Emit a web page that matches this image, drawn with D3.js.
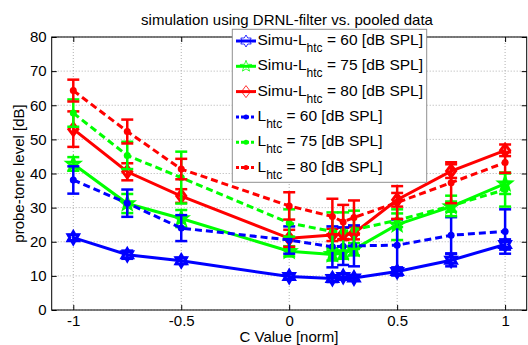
<!DOCTYPE html>
<html>
<head>
<meta charset="utf-8">
<script src="https://cdn.jsdelivr.net/npm/d3@7"></script>
<style>
body { margin:0; background:#fff; }
text { font-family: "Liberation Sans", Arial, sans-serif; fill:#000; }
</style>
</head>
<body>
<div id="wrapper"></div>
<script>
var cValues = [-1, -0.75, -0.5, 0, 0.2, 0.25, 0.3, 0.5, 0.75, 1];
var xTicks = [-1, -0.5, 0, 0.5, 1];
var yTicks = [0, 10, 20, 30, 40, 50, 60, 70, 80];

var simu60 = [21.2, 16.2, 14.4, 9.8, 9.2, 9.8, 9.4, 11.3, 14.6, 19.2];
var simu60Err = [0.8, 1.2, 0.9, 0.7, 1, 0.8, 0.7, 1.2, 1.8, 1.5];
var simu75 = [42.8, 31.2, 26.8, 17.2, 16.3, 16.8, 17.8, 25, 30.3, 37];
var simu75Err = [2, 2.8, 2.5, 1.5, 1.8, 1.8, 1.8, 4.5, 1.5, 3];
var simu80 = [53, 40.5, 33.4, 21, 22, 22.3, 22.5, 32.3, 40.7, 46.8];
var simu80Err = [5.2, 2.5, 2, 2.5, 1.8, 1.8, 1.8, 2, 2, 1.7];
var data60 = [38.1, 31.3, 24, 20.5, 18.5, 18.7, 18.8, 19, 21.9, 23];
var data60Err = [4, 4, 3.8, 4, 6, 5.5, 6, 7.5, 5.3, 6.5];
var data75 = [57.7, 45.3, 38.8, 25.5, 23, 23, 23.5, 26.3, 30.5, 35.3];
var data75Err = [4, 4, 7.6, 4, 5.6, 5.6, 5.6, 2, 3, 5];
var data80 = [64.3, 52.3, 41.3, 30.5, 27.4, 25.8, 27.1, 31.5, 37.3, 43.2];
var data80Err = [3.2, 3.5, 3, 4, 5.2, 5, 5, 4.8, 6, 3];

var seriesNames = ['Simu-L|htc| = 60 [dB SPL]', 'Simu-L|htc| = 75 [dB SPL]', 'Simu-L|htc| = 80 [dB SPL]',
                   'L|htc| = 60 [dB SPL]', 'L|htc| = 75 [dB SPL]', 'L|htc| = 80 [dB SPL]'];

var series = [
  {vals: simu60, err: simu60Err, color: '#0000ff', dash: null, marker: 'hex'},
  {vals: simu75, err: simu75Err, color: '#00ff00', dash: null, marker: 'pent'},
  {vals: simu80, err: simu80Err, color: '#ff0000', dash: null, marker: 'diamond'},
  {vals: data60, err: data60Err, color: '#0000ff', dash: '7,4', marker: 'dot'},
  {vals: data75, err: data75Err, color: '#00ff00', dash: '7,4', marker: 'dot'},
  {vals: data80, err: data80Err, color: '#ff0000', dash: '7,4', marker: 'dot'}
];

var pLeft = 51.7, pRight = 526.7, pTop = 37, pBottom = 310;

var xscale = d3.scaleLinear().domain([-1.1, 1.1]).range([pLeft, pRight]);
var yscale = d3.scaleLinear().domain([0, 80]).range([pBottom, pTop]);

var canvas = d3.select('#wrapper').append('svg')
    .attr('width', 528).attr('height', 345);

// grid
var grid = canvas.append('g').attr('id', 'grid');
grid.selectAll('line.gx').data(xTicks).enter().append('line')
    .attr('x1', function(d){ return xscale(d); }).attr('x2', function(d){ return xscale(d); })
    .attr('y1', pTop).attr('y2', pBottom)
    .style('stroke', '#b0b0b0').style('stroke-width', 1).style('stroke-dasharray', '1,2');
grid.selectAll('line.gy').data(yTicks).enter().append('line')
    .attr('y1', function(d){ return yscale(d); }).attr('y2', function(d){ return yscale(d); })
    .attr('x1', pLeft).attr('x2', pRight)
    .style('stroke', '#b0b0b0').style('stroke-width', 1).style('stroke-dasharray', '1,2');

// axes (ticks inside, box)
var xAxis = d3.axisBottom(xscale).tickValues(xTicks).tickSizeInner(-5).tickSizeOuter(0).tickPadding(5)
    .tickFormat(function(d){ return String(d); });
var yAxis = d3.axisLeft(yscale).tickValues(yTicks).tickSizeInner(-5).tickSizeOuter(0).tickPadding(5);
var xTop = d3.axisTop(xscale).tickValues(xTicks).tickSizeInner(-5).tickSizeOuter(0).tickFormat('');
var yRight = d3.axisRight(yscale).tickValues(yTicks).tickSizeInner(-5).tickSizeOuter(0).tickFormat('');

canvas.append('g').attr('transform', 'translate(0,' + pBottom + ')').call(xAxis);
canvas.append('g').attr('transform', 'translate(' + pLeft + ',0)').call(yAxis);
canvas.append('g').attr('transform', 'translate(0,' + pTop + ')').call(xTop);
canvas.append('g').attr('transform', 'translate(' + pRight + ',0)').call(yRight);
canvas.selectAll('.domain').remove();
canvas.selectAll('.tick line').style('stroke', '#000');
canvas.selectAll('.tick text').style('font-size', '15px').style('font-family', '"Liberation Sans", Arial, sans-serif');
canvas.append('rect').attr('x', pLeft).attr('y', pTop).attr('width', pRight - pLeft).attr('height', pBottom - pTop)
    .style('fill', 'none').style('stroke', '#000').style('stroke-width', 1);

// markers
function markerPath(type, s) {
  if (type === 'diamond') {
    return 'M0,' + (-s) + 'L' + (s * 0.75) + ',0L0,' + s + 'L' + (-s * 0.75) + ',0Z';
  }
  var n = type === 'hex' ? 6 : 5, pts = [];
  for (var i = 0; i < n * 2; i++) {
    var r = i % 2 === 0 ? s : s * (type === 'hex' ? 0.58 : 0.42);
    var a = -Math.PI / 2 + i * Math.PI / n;
    pts.push([r * Math.cos(a), r * Math.sin(a)]);
  }
  return 'M' + pts.join('L') + 'Z';
}

var plot = canvas.append('g').attr('id', 'series');
var line = d3.line().x(function(d, i){ return xscale(cValues[i]); }).y(function(d){ return yscale(d); });

series.forEach(function(s) {
  var g = plot.append('g');
  g.append('path').datum(s.vals).attr('d', line)
    .style('fill', 'none').style('stroke', s.color).style('stroke-width', 3)
    .style('stroke-dasharray', s.dash);
  var eb = g.selectAll('g.eb').data(s.vals).enter().append('g');
  eb.append('line')
    .attr('x1', function(d, i){ return xscale(cValues[i]); })
    .attr('x2', function(d, i){ return xscale(cValues[i]); })
    .attr('y1', function(d, i){ return yscale(d + s.err[i]); })
    .attr('y2', function(d, i){ return yscale(d - s.err[i]); })
    .style('stroke', s.color).style('stroke-width', 2.5);
  [1, -1].forEach(function(sg) {
    eb.append('line')
      .attr('x1', function(d, i){ return xscale(cValues[i]) - 6; })
      .attr('x2', function(d, i){ return xscale(cValues[i]) + 6; })
      .attr('y1', function(d, i){ return yscale(d + sg * s.err[i]); })
      .attr('y2', function(d, i){ return yscale(d + sg * s.err[i]); })
      .style('stroke', s.color).style('stroke-width', 2.5);
  });
  if (s.marker === 'dot') {
    g.selectAll('circle').data(s.vals).enter().append('circle')
      .attr('cx', function(d, i){ return xscale(cValues[i]); })
      .attr('cy', function(d){ return yscale(d); })
      .attr('r', 3.5).style('fill', s.color);
  } else {
    g.selectAll('path.mk').data(s.vals).enter().append('path')
      .attr('transform', function(d, i){ return 'translate(' + xscale(cValues[i]) + ',' + yscale(d) + ')'; })
      .attr('d', markerPath(s.marker, 6))
      .style('fill', 'none').style('stroke', s.color).style('stroke-width', 3);
  }
});

// title and labels
canvas.append('text').attr('x', 287).attr('y', 25).attr('text-anchor', 'middle')
    .style('font-size', '15px').text('simulation using DRNL-filter vs. pooled data');
canvas.append('text').attr('x', 289).attr('y', 342).attr('text-anchor', 'middle')
    .style('font-size', '15px').text('C Value [norm]');
canvas.append('text').attr('transform', 'translate(24,' + ((pTop + pBottom) / 2) + ') rotate(-90)')
    .attr('text-anchor', 'middle').style('font-size', '15px').text('probe-tone level [dB]');

// legend
var legend = canvas.append('g').attr('id', 'legend');
legend.append('rect').attr('x', 232.3).attr('y', 29.3).attr('width', 194.4).attr('height', 153)
    .style('fill', '#fff').style('stroke', '#909090').style('stroke-width', 1);
var legItems = legend.selectAll('g.item').data(series).enter().append('g')
    .attr('transform', function(d, i){ return 'translate(0,' + (45 + i * 25.3) + ')'; });
legItems.append('line').attr('x1', 236).attr('x2', 256).attr('y1', -4).attr('y2', -4)
    .style('stroke', function(d){ return d.color; }).style('stroke-width', 3)
    .style('stroke-dasharray', function(d){ return d.dash ? '3,2' : null; });
legItems.each(function(d) {
  var g = d3.select(this);
  if (d.marker === 'dot') {
    g.append('circle').attr('cx', 246).attr('cy', -4).attr('r', 2.5).style('fill', d.color);
  } else {
    g.append('path').attr('transform', 'translate(246,-4)').attr('d', markerPath(d.marker, 6))
      .style('fill', 'none').style('stroke', d.color).style('stroke-width', 0.8);
  }
});
var legText = legItems.append('text').attr('x', 257.5).attr('y', 0).style('font-size', '15.5px');
legText.each(function(d, i) {
  var parts = seriesNames[i].split('|');
  var t = d3.select(this);
  t.append('tspan').text(parts[0]);
  t.append('tspan').attr('dy', 7).style('font-size', '12px').text(parts[1]);
  t.append('tspan').attr('dy', -7).text(parts[2]);
});
</script>
</body>
</html>
